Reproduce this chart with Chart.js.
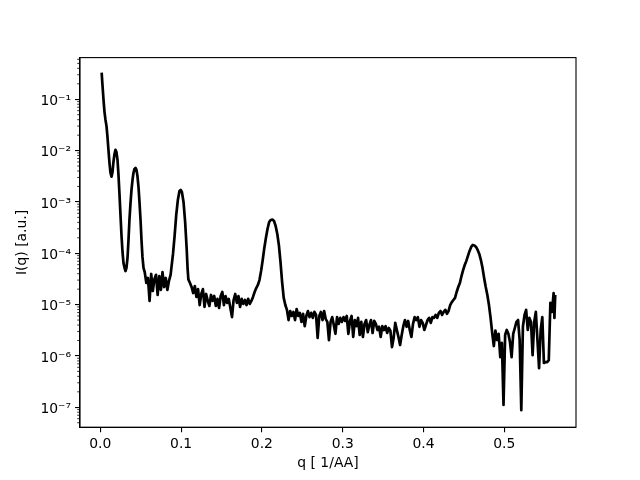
<!DOCTYPE html>
<html lang="en">
<head>
<meta charset="UTF-8">
<title>I(q)</title>
<script src="https://cdn.jsdelivr.net/npm/chart.js@4"></script>
<style>
  body { margin: 0; background: #fff; }
  #wrap { width: 640px; height: 480px; }
</style>
</head>
<body>
<div id="wrap"><canvas id="saxs" width="640" height="480"></canvas></div>
<script>
// low-q decay and the first two peaks
const qHead = [0.0017, 0.0027, 0.0040, 0.0052, 0.0064, 0.0077, 0.0089, 0.0101, 0.0114, 0.0126,
               0.0139, 0.0151, 0.0163, 0.0176, 0.0188, 0.0200, 0.0213, 0.0225, 0.0238, 0.0250,
               0.0262, 0.0275, 0.0287, 0.0300, 0.0312, 0.0324, 0.0337, 0.0349, 0.0361, 0.0374,
               0.0386, 0.0399, 0.0411, 0.0423, 0.0436, 0.0448, 0.0460, 0.0473, 0.0485, 0.0498,
               0.0510, 0.0522, 0.0535];
const iHead = [3.3e-1, 1.9e-1, 9.7e-2, 5.7e-2, 4.0e-2, 3.0e-2, 1.85e-2, 1.03e-2, 5.7e-3, 3.7e-3,
               3.1e-3, 3.8e-3, 6.0e-3, 8.6e-3, 1.03e-2, 9.4e-3, 6.6e-3, 3.4e-3, 1.37e-3, 5.6e-4,
               2.3e-4, 1.06e-4, 6.5e-5, 5.2e-5, 4.5e-5, 5.2e-5, 8.1e-5, 1.8e-4, 4.5e-4, 9.5e-4,
               1.7e-3, 2.7e-3, 3.7e-3, 4.4e-3, 4.6e-3, 4.2e-3, 3.2e-3, 1.95e-3, 1.0e-3, 4.5e-4,
               1.8e-4, 8.5e-5, 5.2e-5];

// noisy stretch before the 0.1 peak
const qNoise1 = [0.055, 0.057, 0.059, 0.061, 0.063, 0.065, 0.067, 0.069, 0.071, 0.073,
                 0.075, 0.077, 0.079, 0.081, 0.083, 0.085];
const iNoise1 = [4.3e-5, 2.64e-5, 3.3e-5, 1.18e-5, 3.95e-5, 1.84e-5, 3.15e-5, 3.8e-5, 1.54e-5, 3.6e-5,
                 1.93e-5, 4.3e-5, 2.2e-5, 3.3e-5, 1.93e-5, 2.9e-5];

// peak near 0.1
const qPeak3 = [0.087, 0.088, 0.090, 0.092, 0.094, 0.096, 0.098, 0.0995, 0.101, 0.103,
                0.105, 0.107, 0.108, 0.109];
const iPeak3 = [3.8e-5, 5.2e-5, 9.7e-5, 2.2e-4, 5.6e-4, 1.09e-3, 1.63e-3, 1.71e-3, 1.56e-3, 1.0e-3,
                4.1e-4, 1.16e-4, 5.2e-5, 3.1e-5];

// noise 0.11 - 0.19
const qNoise2 = [0.111, 0.113, 0.115, 0.117, 0.119, 0.121, 0.123, 0.125, 0.127, 0.129,
                 0.131, 0.133, 0.135, 0.137, 0.139, 0.141, 0.143, 0.145, 0.147, 0.149,
                 0.151, 0.153, 0.155, 0.157, 0.159, 0.161, 0.163, 0.165, 0.167, 0.169,
                 0.171, 0.173, 0.175, 0.177, 0.179, 0.181, 0.183, 0.185, 0.187, 0.189,
                 0.191];
const iNoise2 = [2.64e-5, 2.2e-5, 1.68e-5, 2.3e-5, 1.41e-5, 2.0e-5, 9.8e-6, 1.61e-5, 2.0e-5, 9.0e-6,
                 1.61e-5, 1.18e-5, 9.4e-6, 1.54e-5, 1.18e-5, 1.47e-5, 9.4e-6, 1.29e-5, 8.6e-6, 1.47e-5,
                 1.76e-5, 9.8e-6, 1.47e-5, 1.08e-5, 1.29e-5, 8.6e-6, 5.7e-6, 1.23e-5, 1.61e-5, 1.08e-5,
                 1.47e-5, 9.0e-6, 1.29e-5, 1.03e-5, 1.23e-5, 9.8e-6, 1.29e-5, 1.03e-5, 1.18e-5, 1.41e-5,
                 1.76e-5];

// peak near 0.21
const qPeak4 = [0.193, 0.195, 0.197, 0.199, 0.201, 0.203, 0.205, 0.207, 0.209, 0.211,
                0.213, 0.215, 0.217, 0.219, 0.221, 0.223, 0.225, 0.227, 0.229, 0.231];
const iPeak4 = [2.1e-5, 2.41e-5, 3.0e-5, 4.5e-5, 7.4e-5, 1.27e-4, 2.0e-4, 3.0e-4, 4.07e-4, 4.46e-4,
                4.55e-4, 4.26e-4, 3.4e-4, 2.4e-4, 1.45e-4, 6.8e-5, 2.76e-5, 1.35e-5, 9.8e-6, 7.9e-6];

// long noisy plateau 0.23 - 0.44
const qNoise3 = [0.233, 0.235, 0.237, 0.239, 0.241, 0.243, 0.245, 0.247, 0.249, 0.251,
                 0.253, 0.255, 0.257, 0.259, 0.261, 0.263, 0.265, 0.267, 0.269, 0.271,
                 0.273, 0.275, 0.277, 0.279, 0.281, 0.283, 0.285, 0.287, 0.289, 0.291,
                 0.293, 0.295, 0.297, 0.299, 0.301, 0.303, 0.305, 0.307, 0.309, 0.311,
                 0.313, 0.315, 0.317, 0.319, 0.321, 0.323, 0.325, 0.327, 0.329, 0.331,
                 0.333, 0.335, 0.337, 0.339, 0.341, 0.343, 0.345, 0.347, 0.349, 0.351,
                 0.353, 0.355, 0.357, 0.359, 0.361, 0.363, 0.365, 0.367, 0.369, 0.371,
                 0.373, 0.375, 0.377, 0.379, 0.381, 0.383, 0.385, 0.387, 0.389, 0.391,
                 0.393, 0.395, 0.397, 0.399, 0.401, 0.403, 0.405, 0.407, 0.409, 0.411,
                 0.413, 0.415, 0.417, 0.419, 0.421, 0.423, 0.425, 0.427, 0.429, 0.431,
                 0.433, 0.435, 0.437, 0.439, 0.441];
const iNoise3 = [5.0e-6, 7.5e-6, 6.0e-6, 7.2e-6, 5.0e-6, 8.2e-6, 6.0e-6, 6.9e-6, 4.6e-6, 6.6e-6,
                 3.8e-6, 6.0e-6, 7.5e-6, 5.7e-6, 6.9e-6, 5.5e-6, 7.2e-6, 6.3e-6, 2.24e-6, 6.0e-6,
                 7.2e-6, 5.0e-6, 7.5e-6, 5.2e-6, 4.6e-6, 2.04e-6, 4.6e-6, 5.7e-6, 4.0e-6, 2.7e-6,
                 5.7e-6, 4.2e-6, 5.5e-6, 4.6e-6, 5.7e-6, 4.8e-6, 6.0e-6, 2.7e-6, 4.8e-6, 6.0e-6,
                 2.34e-6, 5.0e-6, 3.8e-6, 5.5e-6, 2.56e-6, 4.6e-6, 2.34e-6, 4.2e-6, 5.0e-6, 2.9e-6,
                 4.0e-6, 5.0e-6, 2.8e-6, 4.8e-6, 4.2e-6, 3.2e-6, 3.7e-6, 2.34e-6, 3.8e-6, 3.2e-6,
                 3.8e-6, 2.8e-6, 3.5e-6, 3.1e-6, 1.49e-6, 2.24e-6, 4.4e-6, 3.2e-6, 2.34e-6, 1.63e-6,
                 2.56e-6, 3.8e-6, 5.0e-6, 3.7e-6, 4.8e-6, 3.2e-6, 2.34e-6, 4.2e-6, 5.7e-6, 5.0e-6,
                 5.7e-6, 3.7e-6, 5.0e-6, 4.4e-6, 3.2e-6, 4.0e-6, 5.0e-6, 5.5e-6, 4.4e-6, 5.7e-6,
                 5.5e-6, 6.3e-6, 5.5e-6, 6.9e-6, 7.5e-6, 6.3e-6, 7.2e-6, 7.9e-6, 6.6e-6, 7.5e-6,
                 9.8e-6, 1.12e-5, 1.23e-5, 1.35e-5, 1.76e-5];

// broad peak near 0.46
const qPeak5 = [0.443, 0.445, 0.447, 0.449, 0.451, 0.453, 0.455, 0.457, 0.459, 0.461,
                0.463, 0.465, 0.467, 0.469, 0.471, 0.473, 0.475, 0.477, 0.479, 0.481,
                0.483, 0.485];
const iPeak5 = [2.2e-5, 2.64e-5, 3.6e-5, 4.7e-5, 5.9e-5, 7.1e-5, 8.9e-5, 1.11e-4, 1.33e-4, 1.45e-4,
                1.42e-4, 1.33e-4, 1.16e-4, 9.7e-5, 7.4e-5, 5.2e-5, 3.3e-5, 2.2e-5, 1.54e-5, 9.8e-6,
                5.5e-6, 2.8e-6];

// high-q tail
const qTail = [0.487, 0.489, 0.491, 0.493, 0.495, 0.497, 0.499, 0.501, 0.503, 0.505,
               0.507, 0.509, 0.511, 0.513, 0.515, 0.517, 0.519, 0.521, 0.523, 0.525,
               0.527, 0.529, 0.531, 0.533, 0.535, 0.537, 0.539, 0.541, 0.543, 0.545,
               0.547, 0.549, 0.551, 0.553, 0.555, 0.557, 0.559, 0.561, 0.562, 0.563];
const iTail = [1.56e-6, 3.1e-6, 2.04e-6, 2.7e-6, 9.5e-7, 1.79e-6, 1.11e-7, 2.56e-6, 3.2e-6, 2.7e-6,
               1.87e-6, 9.5e-7, 2.7e-6, 3.5e-6, 4.6e-6, 5.0e-6, 2.04e-6, 8.8e-8, 3.7e-6, 6.3e-6,
               7.9e-6, 3.2e-6, 5.5e-6, 4.6e-6, 1.04e-6, 4.6e-6, 7.2e-6, 2.04e-6, 5.8e-7, 3.2e-6,
               5.7e-6, 7.3e-7, 7.6e-7, 7.6e-7, 8.3e-7, 1.08e-5, 7.2e-6, 1.68e-5, 5.5e-6, 1.54e-5];

const xTicks = [0.0, 0.1, 0.2, 0.3, 0.4, 0.5];
const yTicks = [1e-7, 1e-6, 1e-5, 1e-4, 1e-3, 1e-2, 1e-1];

const q = [].concat(qHead, qNoise1, qPeak3, qNoise2, qPeak4, qNoise3, qPeak5, qTail);
const intensity = [].concat(iHead, iNoise1, iPeak3, iNoise2, iPeak4, iNoise3, iPeak5, iTail);
const points = q.map((v, i) => ({x: v, y: intensity[i]}));

const SUP = {'-': '\u207b', '0': '\u2070', '1': '\u00b9', '2': '\u00b2', '3': '\u00b3',
             '4': '\u2074', '5': '\u2075', '6': '\u2076', '7': '\u2077', '8': '\u2078', '9': '\u2079'};
function powLabel(v) {
    const e = Math.round(Math.log10(v));
    return '10' + String(e).split('').map(c => SUP[c]).join('');
}

const font = {family: 'DejaVu Sans', size: 13.9};

// matplotlib-like closed frame and minor log ticks
const frame = {
    id: 'frame',
    afterDraw(chart) {
        const {ctx, chartArea: a, scales: {y}} = chart;
        ctx.save();
        ctx.strokeStyle = '#000';
        ctx.lineWidth = 1.1;
        ctx.strokeRect(a.left, a.top, a.right - a.left, a.bottom - a.top);
        ctx.lineWidth = 0.8;
        ctx.beginPath();
        for (let e = -8; e <= 0; e++) {
            for (let k = 2; k <= 9; k++) {
                const v = k * Math.pow(10, e);
                if (v < y.min || v > y.max) continue;
                const py = y.getPixelForValue(v);
                ctx.moveTo(a.left - 2.8, py);
                ctx.lineTo(a.left, py);
            }
        }
        ctx.stroke();
        ctx.restore();
    }
};

Chart.defaults.color = '#000';

new Chart(document.getElementById('saxs'), {
    type: 'line',
    data: {
        datasets: [{
            data: points,
            borderColor: '#000',
            borderWidth: 2.7,
            borderJoinStyle: 'round',
            pointRadius: 0,
            tension: 0,
            fill: false
        }]
    },
    options: {
        responsive: false,
        animation: false,
        layout: {padding: {top: 57.6, right: 64, bottom: 0, left: 0}},
        plugins: {legend: {display: false}, tooltip: {enabled: false}},
        scales: {
            x: {
                type: 'linear',
                min: -0.0251,
                max: 0.5887,
                afterBuildTicks: s => { s.ticks = xTicks.map(v => ({value: v})); },
                afterFit: s => { s.height = 52.8; },
                ticks: {font, padding: 4, maxRotation: 0, autoSkip: false,
                        callback: v => Number(v).toFixed(1)},
                grid: {drawOnChartArea: false, tickLength: 5, tickColor: '#000', lineWidth: 1.1},
                border: {color: '#000', width: 1.1},
                title: {display: true, text: 'q [ 1/AA]', font, padding: {top: 0, bottom: 8}}
            },
            y: {
                type: 'logarithmic',
                min: 4.09e-8,
                max: 0.648,
                afterBuildTicks: s => { s.ticks = yTicks.map(v => ({value: v})); },
                afterFit: s => { s.width = 80; },
                ticks: {font, padding: 4, labelOffset: 2, autoSkip: false, callback: v => powLabel(v)},
                grid: {drawOnChartArea: false, tickLength: 5, tickColor: '#000', lineWidth: 1.1},
                border: {color: '#000', width: 1.1},
                title: {display: true, text: 'I(q) [a.u.]', font, padding: {top: 14, bottom: 0}}
            }
        }
    },
    plugins: [frame]
});
</script>
</body>
</html>
